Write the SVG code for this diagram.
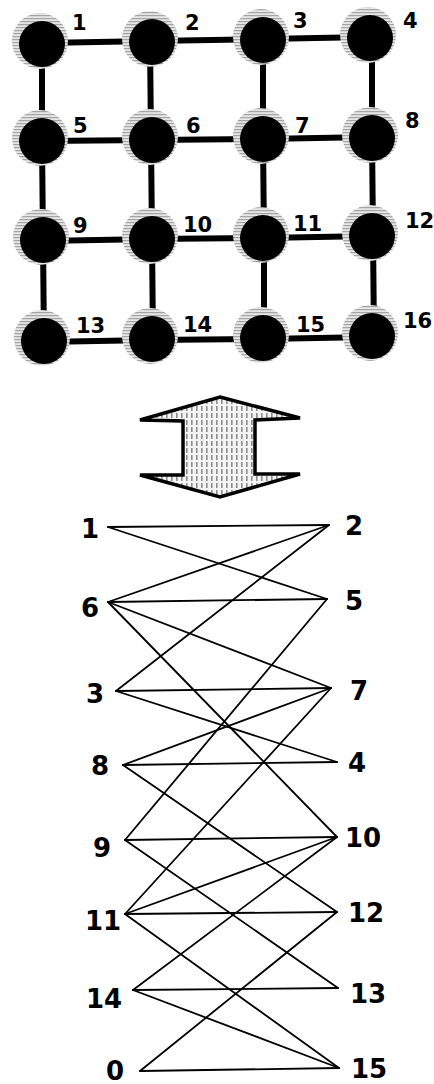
<svg xmlns="http://www.w3.org/2000/svg" width="434" height="1084" viewBox="0 0 434 1084">
<style>
.lbl{font-family:"DejaVu Sans",Verdana,sans-serif;font-weight:bold;font-size:21px;fill:#000}
.blbl{font-family:"DejaVu Sans",Verdana,sans-serif;font-weight:bold;font-size:26px;fill:#000}
.mesh{stroke:#000;stroke-width:6;fill:none}
.bip{stroke:#000;stroke-width:1.8;fill:none;stroke-linecap:round}
.halo{fill:url(#haloPat)}
.core{fill:#000}
</style>
<defs>
<pattern id="haloPat" width="4" height="3" patternUnits="userSpaceOnUse">
<rect width="4" height="3" fill="#e6e6e6"/>
<rect width="4" height="1.2" fill="#a4a4a4"/>
</pattern>
<pattern id="arrowPat" width="5" height="7" patternUnits="userSpaceOnUse">
<rect width="5" height="7" fill="#f4f4f4"/>
<rect x="1" y="0" width="1.6" height="5" fill="#8c8c8c"/>
</pattern>
</defs>
<g id="mesh-connectors">
<line class="mesh" x1="42" y1="43" x2="152" y2="41"/>
<line class="mesh" x1="152" y1="41" x2="263" y2="39"/>
<line class="mesh" x1="263" y1="39" x2="370" y2="37"/>
<line class="mesh" x1="42" y1="141" x2="152" y2="140"/>
<line class="mesh" x1="152" y1="140" x2="263" y2="139"/>
<line class="mesh" x1="263" y1="139" x2="372" y2="137"/>
<line class="mesh" x1="42" y1="241" x2="152" y2="239"/>
<line class="mesh" x1="152" y1="239" x2="263" y2="238"/>
<line class="mesh" x1="263" y1="238" x2="372" y2="236"/>
<line class="mesh" x1="42" y1="342" x2="152" y2="340"/>
<line class="mesh" x1="152" y1="340" x2="263" y2="339"/>
<line class="mesh" x1="263" y1="339" x2="372" y2="337"/>
<line class="mesh" x1="42" y1="43" x2="42" y2="141"/>
<line class="mesh" x1="42" y1="141" x2="43" y2="241"/>
<line class="mesh" x1="43" y1="241" x2="44" y2="342"/>
<line class="mesh" x1="150" y1="41" x2="151" y2="140"/>
<line class="mesh" x1="151" y1="140" x2="152" y2="239"/>
<line class="mesh" x1="152" y1="239" x2="153" y2="340"/>
<line class="mesh" x1="263" y1="39" x2="263" y2="139"/>
<line class="mesh" x1="263" y1="139" x2="264" y2="238"/>
<line class="mesh" x1="264" y1="238" x2="264" y2="339"/>
<line class="mesh" x1="372" y1="37" x2="372" y2="137"/>
<line class="mesh" x1="372" y1="137" x2="373" y2="236"/>
<line class="mesh" x1="373" y1="236" x2="374" y2="337"/>
</g>
<g id="n1"><circle class="halo" cx="40" cy="41" r="28"/><circle class="core" cx="42" cy="44" r="23"/><text class="lbl" x="72" y="30">1</text></g>
<g id="n2"><circle class="halo" cx="150" cy="39" r="28"/><circle class="core" cx="152" cy="42" r="23"/><text class="lbl" x="185" y="30">2</text></g>
<g id="n3"><circle class="halo" cx="261" cy="37" r="28"/><circle class="core" cx="263" cy="40" r="23"/><text class="lbl" x="293" y="28">3</text></g>
<g id="n4"><circle class="halo" cx="368" cy="35" r="28"/><circle class="core" cx="370" cy="38" r="23"/><text class="lbl" x="403" y="28">4</text></g>
<g id="n5"><circle class="halo" cx="40" cy="138" r="28"/><circle class="core" cx="42" cy="141" r="23"/><text class="lbl" x="73" y="133">5</text></g>
<g id="n6"><circle class="halo" cx="150" cy="137" r="28"/><circle class="core" cx="152" cy="140" r="23"/><text class="lbl" x="186" y="133">6</text></g>
<g id="n7"><circle class="halo" cx="261" cy="136" r="28"/><circle class="core" cx="263" cy="139" r="23"/><text class="lbl" x="295" y="133">7</text></g>
<g id="n8"><circle class="halo" cx="370" cy="135" r="28"/><circle class="core" cx="372" cy="138" r="23"/><text class="lbl" x="405" y="128">8</text></g>
<g id="n9"><circle class="halo" cx="41" cy="237" r="28"/><circle class="core" cx="43" cy="240" r="23"/><text class="lbl" x="73" y="233">9</text></g>
<g id="n10"><circle class="halo" cx="150" cy="236" r="28"/><circle class="core" cx="152" cy="239" r="23"/><text class="lbl" x="183" y="232">10</text></g>
<g id="n11"><circle class="halo" cx="261" cy="235" r="28"/><circle class="core" cx="263" cy="238" r="23"/><text class="lbl" x="293" y="231">11</text></g>
<g id="n12"><circle class="halo" cx="370" cy="233" r="28"/><circle class="core" cx="372" cy="236" r="23"/><text class="lbl" x="405" y="228">12</text></g>
<g id="n13"><circle class="halo" cx="42" cy="338" r="28"/><circle class="core" cx="44" cy="341" r="23"/><text class="lbl" x="76" y="333">13</text></g>
<g id="n14"><circle class="halo" cx="150" cy="336" r="28"/><circle class="core" cx="152" cy="339" r="23"/><text class="lbl" x="183" y="332">14</text></g>
<g id="n15"><circle class="halo" cx="261" cy="335" r="28"/><circle class="core" cx="263" cy="338" r="23"/><text class="lbl" x="296" y="332">15</text></g>
<g id="n16"><circle class="halo" cx="370" cy="333" r="28"/><circle class="core" cx="372" cy="336" r="23"/><text class="lbl" x="403" y="328">16</text></g>
<g id="double-arrow">
<polygon points="220,397 300,418 255,420 255,474 300,474 220,497 140,475 183,475 183,421 140,420" fill="url(#arrowPat)" stroke="#000" stroke-width="3.5" stroke-linejoin="miter"/>
</g>
<g id="bipartite-connectors">
<line class="bip" x1="108" y1="527" x2="329" y2="525"/>
<line class="bip" x1="108" y1="527" x2="327" y2="599"/>
<line class="bip" x1="108" y1="602" x2="329" y2="525"/>
<line class="bip" x1="108" y1="602" x2="327" y2="599"/>
<line class="bip" x1="108" y1="602" x2="331" y2="688"/>
<line class="bip" x1="108" y1="602" x2="337" y2="837"/>
<line class="bip" x1="116" y1="691" x2="329" y2="525"/>
<line class="bip" x1="116" y1="691" x2="331" y2="688"/>
<line class="bip" x1="116" y1="691" x2="337" y2="762"/>
<line class="bip" x1="123" y1="765" x2="337" y2="762"/>
<line class="bip" x1="123" y1="765" x2="331" y2="688"/>
<line class="bip" x1="123" y1="765" x2="337" y2="912"/>
<line class="bip" x1="125" y1="840" x2="327" y2="599"/>
<line class="bip" x1="125" y1="840" x2="337" y2="837"/>
<line class="bip" x1="125" y1="840" x2="338" y2="988"/>
<line class="bip" x1="125" y1="914" x2="331" y2="688"/>
<line class="bip" x1="125" y1="914" x2="337" y2="837"/>
<line class="bip" x1="125" y1="914" x2="337" y2="912"/>
<line class="bip" x1="125" y1="914" x2="339" y2="1068"/>
<line class="bip" x1="133" y1="990" x2="337" y2="837"/>
<line class="bip" x1="133" y1="990" x2="338" y2="988"/>
<line class="bip" x1="133" y1="990" x2="339" y2="1068"/>
<line class="bip" x1="140" y1="1071" x2="337" y2="912"/>
<line class="bip" x1="140" y1="1071" x2="339" y2="1068"/>
</g>
<g id="b1"><text class="blbl" x="81" y="538">1</text></g>
<g id="b6"><text class="blbl" x="81" y="617">6</text></g>
<g id="b3"><text class="blbl" x="86" y="703">3</text></g>
<g id="b8"><text class="blbl" x="91" y="775">8</text></g>
<g id="b9"><text class="blbl" x="93" y="857">9</text></g>
<g id="b11"><text class="blbl" x="85" y="930">11</text></g>
<g id="b14"><text class="blbl" x="86" y="1008">14</text></g>
<g id="b0"><text class="blbl" x="106" y="1080">0</text></g>
<g id="b2"><text class="blbl" x="345" y="535">2</text></g>
<g id="b5"><text class="blbl" x="345" y="610">5</text></g>
<g id="b7"><text class="blbl" x="350" y="700">7</text></g>
<g id="b4"><text class="blbl" x="348" y="772">4</text></g>
<g id="b10"><text class="blbl" x="345" y="847">10</text></g>
<g id="b12"><text class="blbl" x="348" y="922">12</text></g>
<g id="b13"><text class="blbl" x="350" y="1003">13</text></g>
<g id="b15"><text class="blbl" x="351" y="1078">15</text></g>
</svg>
